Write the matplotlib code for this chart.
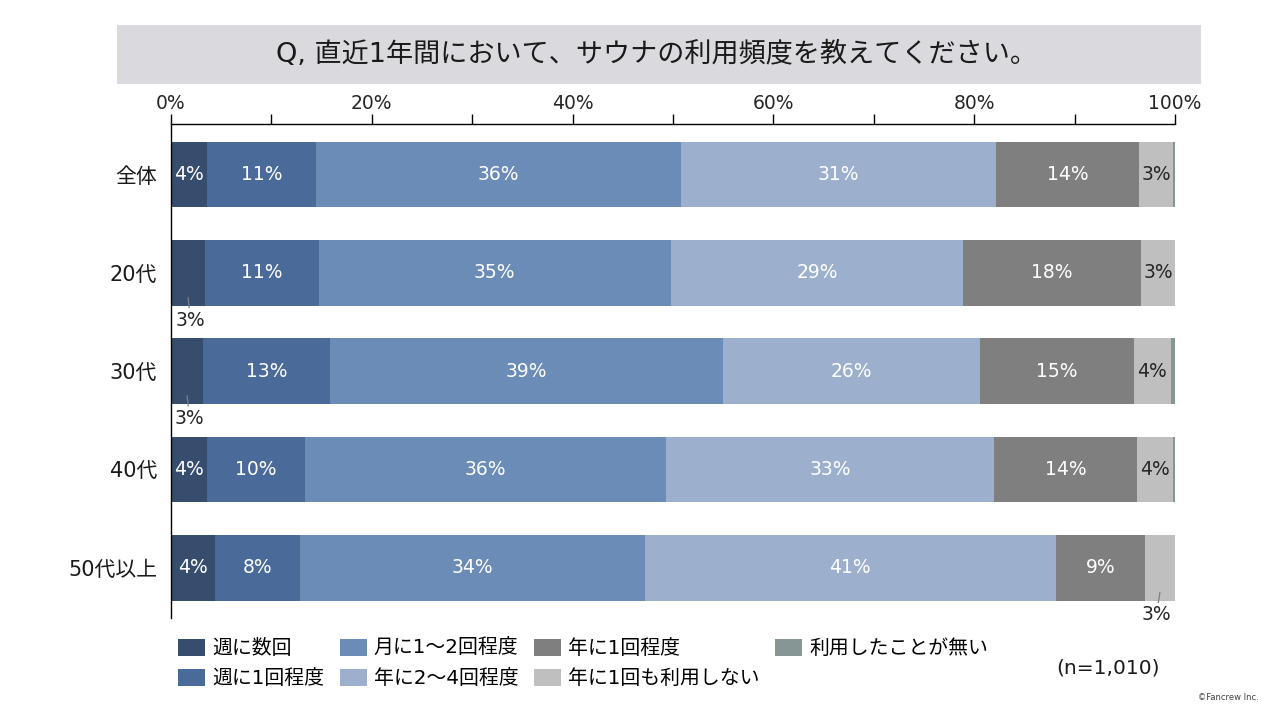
import matplotlib
matplotlib.use("Agg")
import matplotlib.pyplot as plt
from matplotlib.patches import Rectangle, Patch

plt.rcParams['font.family'] = ['DejaVu Sans', 'Noto Sans CJK JP']

categories = ['全体', '20代', '30代', '40代', '50代以上']
series_names = ['週に数回', '週に1回程度', '月に1〜2回程度', '年に2〜4回程度',
                '年に1回程度', '年に1回も利用しない', '利用したことが無い']
values = {
    '週に数回':          [3.6, 3.4, 3.2, 3.6, 4.4],
    '週に1回程度':       [10.8, 11.3, 12.6, 9.7, 8.4],
    '月に1〜2回程度':    [36.4, 35.1, 39.2, 36.0, 34.4],
    '年に2〜4回程度':    [31.4, 29.1, 25.6, 32.7, 40.9],
    '年に1回程度':       [14.2, 17.7, 15.3, 14.2, 8.9],
    '年に1回も利用しない': [3.4, 3.4, 3.7, 3.6, 3.0],
    '利用したことが無い':  [0.2, 0.0, 0.4, 0.2, 0.0],
}
colors = ['#374D6E', '#4A6A9A', '#6C8CB8', '#9CAFCD', '#7F7F7F', '#BFBFBF', '#869694']
text_colors = ['white', 'white', 'white', 'white', 'white', '#262626', '#262626']
title = 'Q, 直近1年間において、サウナの利用頻度を教えてください。'

# labels drawn outside the bar (category index, series index)
outside = {(1, 0), (2, 0), (4, 5)}

fig = plt.figure(figsize=(12.8, 7.2), dpi=100)

# title box
fig.patches.append(Rectangle((117/1280, 1-84/720), (1201-117)/1280, 59/720,
                             transform=fig.transFigure, facecolor='#D9D9DE',
                             edgecolor='none', zorder=0))
fig.text(656/1280, 1-55/720, title, ha='center', va='center', fontsize=19.5, color='#1a1a1a')

ax = fig.add_axes([171/1280, 1-618/720, (1175-171)/1280, (618-124)/720])
ypos = list(range(len(categories)))
left = [0.0]*len(categories)
bh = 0.67
for si, name in enumerate(series_names):
    vals = values[name]
    ax.barh(ypos, vals, left=left, height=bh, color=colors[si], edgecolor='none', zorder=2)
    for ci, v in enumerate(vals):
        if si == 6 or v <= 0:
            continue
        cx = left[ci] + v/2
        lab = f'{round(v):d}%'
        if (ci, si) in outside:
            dx = 0.25 if si == 0 else -0.35
            ax.annotate(lab, xy=(cx, ci + 0.25), xytext=(cx + dx, ci + 0.48),
                        ha='center', va='center', fontsize=13.5, color='#262626',
                        arrowprops=dict(arrowstyle='-', color='#7F7F7F', lw=0.9,
                                        shrinkA=0, shrinkB=0), zorder=3)
        else:
            ax.text(cx, ci, lab, ha='center', va='center', fontsize=13.5,
                    color=text_colors[si], zorder=3)
    left = [l + v for l, v in zip(left, vals)]

ax.set_xlim(0, 100)
ax.set_ylim(4.511, -0.514)
ax.xaxis.tick_top()
ax.set_xticks(range(0, 101, 20))
ax.set_xticklabels([f'{t}%' for t in range(0, 101, 20)], fontsize=13.5, color='#262626')
ax.set_xticks(range(10, 100, 20), minor=True)
ax.tick_params(axis='x', which='both', direction='out', length=7, width=1.0,
               color='black', pad=1, top=True, bottom=False)
ax.set_yticks(ypos)
ax.set_yticklabels(categories, fontsize=15, color='#1a1a1a')
ax.tick_params(axis='y', length=0, pad=10)
for s in ['right', 'bottom']:
    ax.spines[s].set_visible(False)
for s in ['left', 'top']:
    ax.spines[s].set_color('black')
    ax.spines[s].set_linewidth(1.0)

handles = [Patch(facecolor=c, edgecolor='none') for c in colors]
fig.legend(handles, series_names, loc='upper left', bbox_to_anchor=(178/1280, 1-639/720),
           ncol=4, frameon=False, fontsize=14.3, handlelength=1.37, handleheight=0.95,
           handletextpad=0.35, columnspacing=0.78, labelspacing=0.52, borderaxespad=0,
           borderpad=0.0)

fig.text(1108/1280, 1-668/720, '(n=1,010)', ha='center', va='center', fontsize=14.5, color='#1a1a1a')
fig.text(1228/1280, 1-698/720, '©Fancrew Inc.', ha='center', va='center', fontsize=6, color='#404040')

fig.savefig('out.png', dpi=100)
